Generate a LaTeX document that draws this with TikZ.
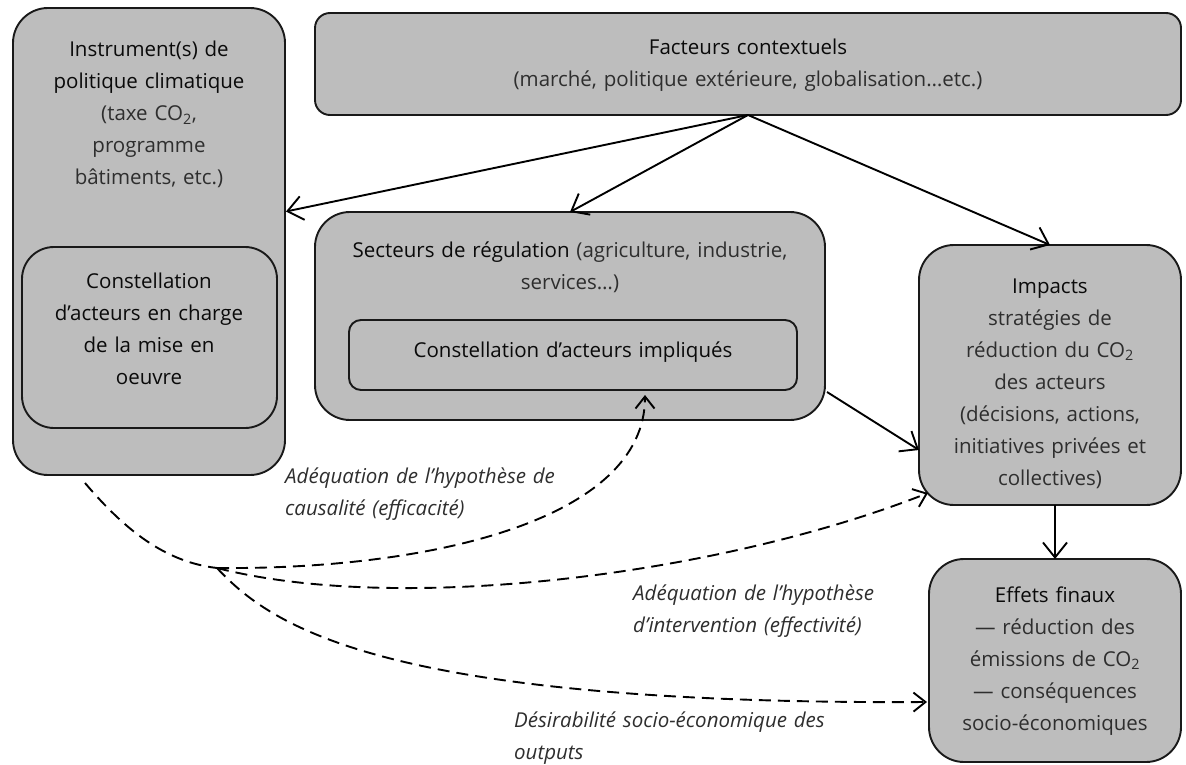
\documentclass[tikz,border=0pt]{standalone}
\usepackage{fontspec}
\setmainfont{Open Sans}
\usetikzlibrary{arrows.meta,calc}
\definecolor{boxfill}{HTML}{BDBDBD}
\definecolor{subtxt}{HTML}{2E2E2E}
\definecolor{maintxt}{HTML}{0A0A0A}
\begin{document}
\begin{tikzpicture}[x=1pt,y=-1pt,
  box/.style={draw=black!90, line width=1.9pt, fill=boxfill, rectangle, inner sep=0pt, outer sep=0pt, anchor=north west},
  txt/.style={inner sep=0pt, anchor=base, align=center, font=\fontsize{20.5}{32}\selectfont, text=maintxt},
  lbl/.style={inner sep=0pt, anchor=base west, align=left, font=\fontsize{20.5}{32}\selectfont\itshape, text=subtxt},
  arr/.style={line width=1.9pt, -{Straight Barb[length=15pt,width=24pt,line width=1.9pt]}},
  darr/.style={line width=1.9pt, dash pattern=on 12pt off 7pt, -{Straight Barb[length=12pt,width=19pt,line width=1.9pt]}},
  dline/.style={line width=1.9pt, dash pattern=on 12pt off 7pt}]
\useasboundingbox (0,0) rectangle (1186,765);
\fill[white] (0,0) rectangle (1186,765);
% boxes
\node[box, rounded corners=35pt, minimum width=272pt, minimum height=467pt] (instr) at (13,8) {};
\node[box, rounded corners=32pt, minimum width=255pt, minimum height=181pt] (acteursA) at (22,247) {};
\node[box, rounded corners=15pt, minimum width=866pt, minimum height=102pt] (fact) at (315,13) {};
\node[box, rounded corners=35pt, minimum width=510pt, minimum height=208pt] (sect) at (315,212) {};
\node[box, rounded corners=12pt, minimum width=448pt, minimum height=70pt] (impl) at (349,320) {};
\node[box, rounded corners=35pt, minimum width=262pt, minimum height=260pt] (imp) at (919,245) {};
\node[box, rounded corners=35pt, minimum width=252pt, minimum height=203pt] (eff) at (929,559) {};
% texts
\node[txt, text width=270pt] (tinstr) at (149,57) {Instrument(s) de\\politique climatique\\{\color{subtxt}(taxe CO\textsubscript{2},\\programme\\bâtiments, etc.)}};
\node[txt, text width=250pt] (tacteursA) at (149,288) {Constellation\\d’acteurs en charge\\de la mise en\\oeuvre};
\node[txt, text width=800pt] (tfact) at (748,55) {Facteurs contextuels\\{\color{subtxt}(marché, politique extérieure, globalisation…etc.)}};
\node[txt, text width=500pt] (tsect) at (570,257) {Secteurs de régulation {\color{subtxt}(agriculture, industrie,\\services…)}};
\node[txt, text width=440pt] (timpl) at (573,357) {Constellation d’acteurs impliqués};
\node[txt, text width=258pt] (timp) at (1050,293) {Impacts\\{\color{subtxt}stratégies de\\réduction du CO\textsubscript{2}\\des acteurs\\(décisions, actions,\\initiatives privées et\\collectives)}};
\node[txt, text width=250pt] (teff) at (1055,602) {Effets finaux\\{\color{subtxt}— réduction des\\émissions de CO\textsubscript{2}\\— conséquences\\socio-économiques}};
\node[lbl, text width=330pt] (lcaus) at (285,483) {Adéquation de l’hypothèse de\\causalité (efficacité)};
\node[lbl, text width=330pt] (linterv) at (633,600) {Adéquation de l’hypothèse\\d’intervention (effectivité)};
\node[lbl, text width=400pt] (ldesir) at (514,727) {Désirabilité socio-économique des\\outputs};
% solid connectors
\draw[arr] (fact.south) -- ($(instr.east)+(1,-30)$);
\draw[arr] (fact.south) -- (sect.north);
\draw[arr] (fact.south) -- (imp.north);
\draw[arr] ($(sect.east)+(2,76)$) -- ($(imp.west)+(0,75)$);
\draw[arr] (eff.north |- imp.south) -- (eff.north);
% dashed connectors
\coordinate (s) at ($(instr.south west)+(72,8)$);
\coordinate (j) at (217,568);
\draw[dline] (s) .. controls (125,530) and (165,562) .. (j);
\draw[darr] (j) .. controls (430,570) and (645,520) .. ($(impl.south east)+(-152,5)$);
\draw[darr] (j) .. controls (400,615) and (720,575) .. ($(imp.south west)+(9,-12)$);
\draw[darr] (j) .. controls (270,625) and (380,705) .. ($(eff.west)+(-2,41.5)$);
\end{tikzpicture}
\end{document}
